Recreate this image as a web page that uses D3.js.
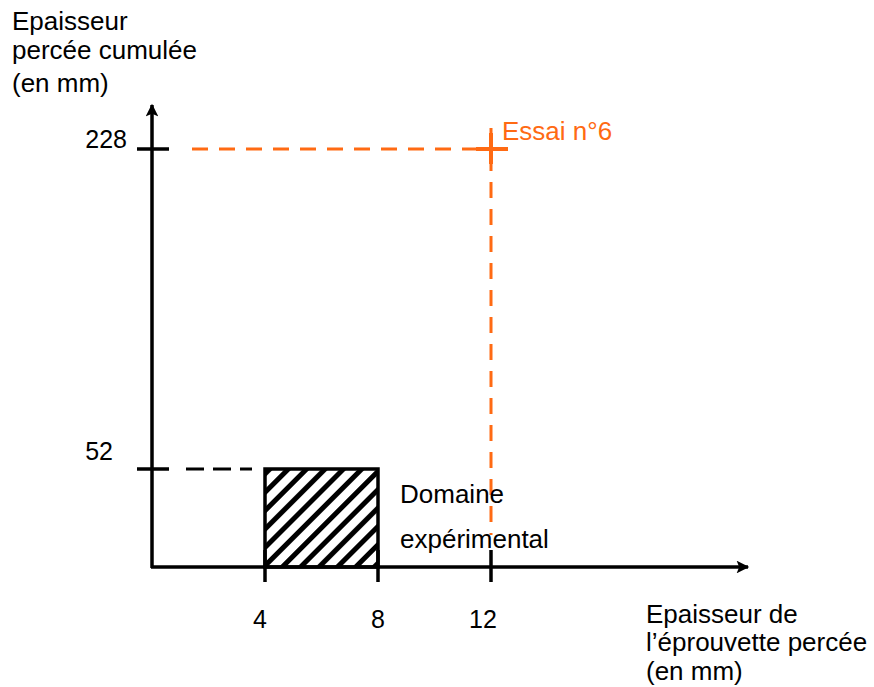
<!DOCTYPE html>
<html><head><meta charset="utf-8">
<script src="https://cdn.jsdelivr.net/npm/d3@7/dist/d3.min.js"></script>
<style>body{margin:0;background:#fff}svg{display:block;font-family:"Liberation Sans",Arial,sans-serif}</style>
</head><body>
<script>
// Data
const xTicks = [4, 8, 12];
const yTicks = [52, 228];
const yTickLabels = ["52", "228"];
const xTickLabels = ["4", "8", "12"];
const domainX = [4, 8];
const domainY = [0, 52];
const essai = {x: 12, y: 228, label: "Essai n°6"};
const yTitle = ["Epaisseur", "percée cumulée", "(en mm)"];
const xTitle = ["Epaisseur de", "l’éprouvette percée", "(en mm)"];
const domainLabel = ["Domaine", "expérimental"];

const W = 874, H = 687, ORANGE = "#ff6a13", FS = 26;
const svg = d3.select("body").append("svg").attr("width", W).attr("height", H);
const x = d3.scaleLinear().domain([0, 12]).range([152, 491]);
const y = d3.scaleLinear().domain([0, 52, 228]).range([567, 469, 149]);

const defs = svg.append("defs");
const pat = defs.append("pattern").attr("id", "hatch").attr("patternUnits", "userSpaceOnUse")
  .attr("width", 13).attr("height", 13).attr("patternTransform", "rotate(45)");
pat.append("rect").attr("width", 13).attr("height", 13).attr("fill", "#fff");
pat.append("rect").attr("x", 0).attr("y", 0).attr("width", 5).attr("height", 13).attr("fill", "#000");
defs.append("marker").attr("id", "arr").attr("viewBox", "0 0 10 10").attr("refX", 9).attr("refY", 5)
  .attr("markerWidth", 5).attr("markerHeight", 3.6).attr("markerUnits", "strokeWidth").attr("orient", "auto")
  .append("path").attr("d", "M0,0 L10,5 L0,10 L2,5 Z").attr("fill", "#000");

// Domain rectangle
svg.append("rect").attr("x", x(domainX[0])).attr("y", y(domainY[1]))
  .attr("width", x(domainX[1]) - x(domainX[0])).attr("height", y(domainY[0]) - y(domainY[1]))
  .attr("fill", "url(#hatch)").attr("stroke", "#000").attr("stroke-width", 3.5);

// Black dashed at 52
svg.append("line").attr("x1", 186).attr("x2", 252).attr("y1", y(52)).attr("y2", y(52))
  .attr("stroke", "#000").attr("stroke-width", 3).attr("stroke-dasharray", "18,9");

// Orange dashed lines
svg.append("line").attr("x1", 192).attr("x2", x(essai.x) + 16).attr("y1", y(essai.y)).attr("y2", y(essai.y))
  .attr("stroke", ORANGE).attr("stroke-width", 3).attr("stroke-dasharray", "16,11");
svg.append("line").attr("x1", x(essai.x)).attr("x2", x(essai.x)).attr("y1", 128).attr("y2", 535)
  .attr("stroke", ORANGE).attr("stroke-width", 3).attr("stroke-dasharray", "16,11");
// Cross
svg.append("line").attr("x1", x(essai.x) - 15).attr("x2", x(essai.x) + 17).attr("y1", y(essai.y)).attr("y2", y(essai.y))
  .attr("stroke", ORANGE).attr("stroke-width", 4);
svg.append("line").attr("x1", x(essai.x)).attr("x2", x(essai.x)).attr("y1", y(essai.y) - 16).attr("y2", y(essai.y) + 15)
  .attr("stroke", ORANGE).attr("stroke-width", 4);
svg.append("text").attr("x", x(essai.x) + 11).attr("y", 140).attr("fill", ORANGE)
  .attr("font-size", FS).text(essai.label);

// Axes
svg.append("line").attr("x1", x(0)).attr("x2", x(0)).attr("y1", y(0) + 1).attr("y2", 105)
  .attr("stroke", "#000").attr("stroke-width", 3.5).attr("marker-end", "url(#arr)");
svg.append("line").attr("x1", x(0) - 1).attr("x2", 748).attr("y1", y(0)).attr("y2", y(0))
  .attr("stroke", "#000").attr("stroke-width", 3.5).attr("marker-end", "url(#arr)");

// Ticks
svg.selectAll(".xt").data(xTicks).enter().append("line")
  .attr("x1", d => x(d)).attr("x2", d => x(d)).attr("y1", 550).attr("y2", 582)
  .attr("stroke", "#000").attr("stroke-width", 3.5);
svg.selectAll(".yt").data(yTicks).enter().append("line")
  .attr("x1", 137).attr("x2", 169).attr("y1", d => y(d)).attr("y2", d => y(d))
  .attr("stroke", "#000").attr("stroke-width", 3.5);

const xOff = [-5, 0, -8];
svg.selectAll(".xl").data(xTicks).enter().append("text")
  .attr("x", (d, i) => x(d) + xOff[i]).attr("y", 628).attr("text-anchor", "middle")
  .attr("font-size", 25).text((d, i) => xTickLabels[i]);
const yLab = [{dx: -39, dy: -9}, {dx: -25, dy: -1}];
svg.selectAll(".yl").data(yTicks).enter().append("text")
  .attr("x", (d, i) => x(0) + yLab[i].dx).attr("y", (d, i) => y(d) + yLab[i].dy).attr("text-anchor", "end")
  .attr("font-size", 25).text((d, i) => yTickLabels[i]);

// Titles
const yT = [30, 59, 92];
yTitle.forEach((t, i) => svg.append("text").attr("x", 12).attr("y", yT[i]).attr("font-size", FS).text(t));
const xT = [623, 651, 680];
xTitle.forEach((t, i) => svg.append("text").attr("x", 646).attr("y", xT[i]).attr("font-size", FS).text(t));
const dT = [503, 548];
domainLabel.forEach((t, i) => svg.append("text").attr("x", 400).attr("y", dT[i]).attr("font-size", FS).text(t));
</script>
</body></html>
